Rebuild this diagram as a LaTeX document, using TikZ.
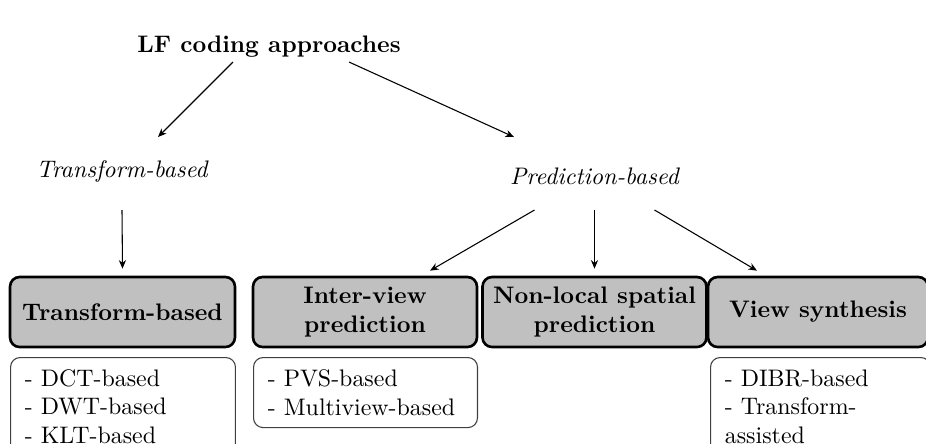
\documentclass[tikz,border=0pt]{standalone}
\usetikzlibrary{calc,arrows.meta}
\definecolor{boxgray}{RGB}{192,192,192}
\tikzset{
  arr/.style={-{Stealth[length=3.6pt,width=3pt]}, line width=0.45pt},
  catbox/.style={draw, line width=1.1pt, rounded corners=4pt, fill=boxgray,
    font=\bfseries, align=center, inner sep=0pt,
    minimum height=29.3pt},
  listbox/.style={draw=black!75, line width=0.45pt, rounded corners=4pt,
    anchor=north west, align=left, inner xsep=6pt, inner ysep=3.6pt},
  kind/.style={font=\itshape}
}
\begin{document}
\begin{tikzpicture}[x=0.4184pt, y=-0.4184pt]
  \clip (0,0) rectangle (926,443);
  \fill[white] (0,0) rectangle (926,443);

  % top level and the two families
  \node[font=\bfseries] (title) at (269,47) {LF coding approaches};
  \node[kind] (tb) at (122,172) {Transform-based};
  \node[kind] (pb) at (594.5,176) {Prediction-based};

  % category boxes
  \node[catbox, minimum width=94.1pt] (g1) at (122.5,312) {Transform-based};
  \node[catbox, minimum width=93.7pt] (g2) at (365,312) {Inter-view\\prediction};
  \node[catbox, minimum width=93.7pt] (g3) at (594.5,312) {Non-local spatial\\prediction};
  \node[catbox, minimum width=92pt] (g4) at (818,312) {View synthesis};

  % lists of methods
  \node[listbox, text width=82.1pt, minimum height=41pt] (l1) at (10,357)
    {- DCT-based\\- DWT-based\\- KLT-based};
  \node[listbox, text width=81.7pt, minimum height=29.3pt] (l2) at (253,357)
    {- PVS-based\\- Multiview-based};
  \node[listbox, text width=80pt, minimum height=41pt] (l4) at (710,357)
    {- DIBR-based\\- Transform-\\assisted};

  % connectors
  \draw[arr] ($(title)+(-36,15)$) -- ($(tb)+(36,-35)$);
  \draw[arr] ($(title)+(80,15)$) -- ($(pb)+(-80.5,-39)$);
  \draw[arr] ($(tb)+(0,38)$) -- ($(g1.north)+(0,-7)$);
  \draw[arr] ($(pb)+(-60,34)$) -- ($(g2.north)+(65,-5)$);
  \draw[arr] ($(pb)+(0,34)$) -- ($(g3.north)+(0,-7)$);
  \draw[arr] ($(pb)+(60,34)$) -- ($(g4.north)+(-61,-5)$);
\end{tikzpicture}
\end{document}
